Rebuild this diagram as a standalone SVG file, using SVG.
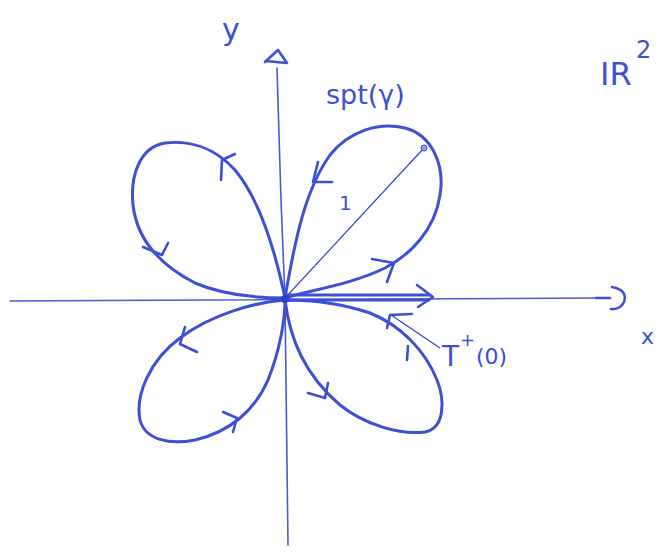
<svg xmlns="http://www.w3.org/2000/svg" width="658" height="552" viewBox="0 0 658 552">
<style>
.ax{fill:none;stroke:#4a5ad6;stroke-width:1.6;stroke-linecap:round}
.pet{fill:none;stroke:#3d4fd3;stroke-width:3;stroke-linejoin:round}
.chev{fill:none;stroke:#3d4fd3;stroke-width:2.6;stroke-linecap:round;stroke-linejoin:round}
.thin{fill:none;stroke:#3545c8;stroke-width:1.2}
.t{fill:#3d4fd3;font-family:"DejaVu Sans",sans-serif}
</style>
<rect width="658" height="552" fill="#ffffff"/>
<g id="axes">
<path class="ax" d="M10,301 L600,298"/>
<path class="ax" d="M277,68 L281,200 L285,300 L288,545"/>
<path class="chev" d="M596,298 L610,298 M612,287 Q628,290 624,302 Q620,310 611,309" />
<path class="chev" d="M265,62 L278,50 L287,63 L266,61"/>
</g>
<g id="connectors">
<path id="petal-ur" class="pet" d="M285,298 C295,240 305,190 330,155 C350,130 380,122 405,128 C432,135 445,165 440,195 C435,230 410,255 385,268 C350,285 310,290 285,298 Z"/>
<path id="petal-ul" class="pet" d="M285,298 C275,250 260,200 235,170 C215,148 190,140 165,143 C140,147 130,175 133,205 C137,240 160,265 195,283 C225,296 260,298 285,298 Z"/>
<path id="petal-ll" class="pet" d="M285,300 C255,302 210,315 180,338 C150,360 135,395 140,420 C145,440 170,445 195,440 C230,432 255,410 268,380 C280,350 285,320 285,300 Z"/>
<path id="petal-lr" class="pet" d="M285,300 C290,340 305,375 340,405 C365,425 400,435 425,432 C445,428 445,400 437,380 C425,350 400,325 370,313 C340,303 310,300 285,300 Z"/>
<polyline class="chev" points="318,162 313,182 332,182"/>
<polyline class="chev" points="372,259 394,263 387,282"/>
<polyline class="chev" points="235,154 222,160 221,180"/>
<polyline class="chev" points="143,247 162,255 168,243"/>
<polyline class="chev" points="185,327 180,344 197,352"/>
<polyline class="chev" points="223,412 237,418 233,432"/>
<polyline class="chev" points="308,393 325,398 328,383"/>
<polyline class="chev" points="412,314 390,315 387,328"/>
<path class="chev" d="M408,346 L407,360"/>
<path class="thin" d="M285,298 L424,148"/>
<circle cx="424" cy="148" r="3" fill="#8fa0e8" stroke="#3d4fd3" stroke-width="1"/>
<path class="pet" d="M287,295 L430,295 M287,300 L430,300" stroke-width="2.6"/>
<polyline class="chev" points="417,285 433,297 418,307"/>
<path class="thin" d="M440,348 L391,315"/>
<circle cx="285" cy="299" r="4" fill="#2f3fc0"/>
</g>
<g id="labels">
<text class="t" x="222" y="40" font-size="30">y</text>
<text class="t" x="326" y="104" font-size="27">spt(γ)</text>
<text class="t" x="600" y="85" font-size="32">IR</text>
<text class="t" x="636" y="58" font-size="24">2</text>
<text class="t" x="339" y="210" font-size="20">1</text>
<text class="t" x="442" y="366" font-size="28">T</text>
<text class="t" x="460" y="346" font-size="18">+</text>
<text class="t" x="476" y="364" font-size="22">(0)</text>
<text class="t" x="641" y="344" font-size="22">x</text>
</g>
</svg>
